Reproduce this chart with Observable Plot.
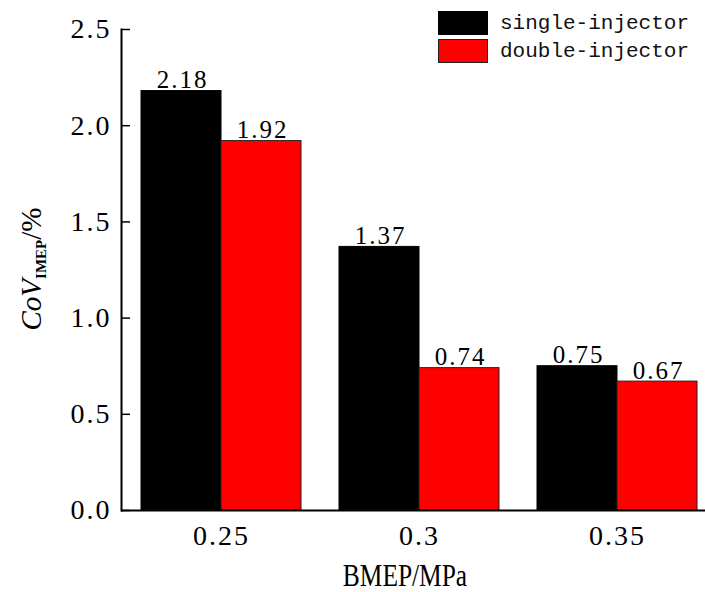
<!DOCTYPE html>
<html><head><meta charset="utf-8">
<script src="https://cdn.jsdelivr.net/npm/d3@7"></script>
<script src="https://cdn.jsdelivr.net/npm/@observablehq/plot@0.6"></script>
<style>
html,body{margin:0;padding:0;background:#fff;overflow:hidden}
#wrap{position:relative;width:705px;height:592px;font-family:'Liberation Serif',serif}
#wrap svg text{font-family:'Liberation Serif',serif;letter-spacing:2px}
#legend{position:absolute;left:438px;top:10px;font-family:'Liberation Mono',monospace;font-size:21px;color:#111}
.lrow{display:flex;align-items:center;height:26px;margin-bottom:2px}
.sw{width:50px;height:24px;box-sizing:border-box;margin-right:12px}
#ylab{position:absolute;left:32px;top:269px;transform:translate(-50%,-50%) rotate(-90deg);white-space:nowrap;font-size:29px;color:#000}
#ylab i{font-style:italic}
#ylab sub{font-size:15px;font-weight:bold;vertical-align:-5px}
#xlab{position:absolute;left:405px;top:576px;transform:translate(-50%,-50%) scaleX(0.82);white-space:nowrap;font-size:31px;color:#000}
</style></head><body><div id="wrap"></div>
<script>
const bmep = ["0.25", "0.3", "0.35"];
const singleInjector = [2.18, 1.37, 0.75];
const doubleInjector = [1.92, 0.74, 0.67];
const yTicks = [0, 0.5, 1.0, 1.5, 2.0, 2.5];
const seriesNames = ["single-injector", "double-injector"];
const seriesColors = ["#000000", "#ff0000"];
const seriesStrokes = ["#000000", "#222222"];

const singleRows = bmep.map((b, i) => ({bmep: b, series: seriesNames[0], value: singleInjector[i]}));
const doubleRows = bmep.map((b, i) => ({bmep: b, series: seriesNames[1], value: doubleInjector[i]}));
const fmt2 = d3.format(".2f");
const fmt1 = d3.format(".1f");
const serif = "'Liberation Serif', serif";

const plot = Plot.plot({
  width: 705, height: 592,
  marginLeft: 121, marginRight: 0, marginTop: 29, marginBottom: 82,
  style: {fontFamily: serif, background: "transparent", color: "#000"},
  x: {domain: bmep, range: [121, 716], paddingInner: 0.193, paddingOuter: 0.0965, axis: null},
  y: {domain: [0, 2.5], axis: null},
  color: {domain: seriesNames, range: seriesColors},
  marks: [
    Plot.barY(singleRows, {x: "bmep", y: "value", fill: "series", stroke: seriesStrokes[0], strokeWidth: 1, insetRight: 80}),
    Plot.barY(doubleRows, {x: "bmep", y: "value", fill: "series", stroke: seriesStrokes[1], strokeWidth: 1, insetLeft: 80}),
    Plot.text(singleRows, {x: "bmep", y: "value", text: d => fmt2(d.value), dx: -39, dy: -3, lineAnchor: "bottom", fontSize: 25, fontFamily: serif}),
    Plot.text(doubleRows, {x: "bmep", y: "value", text: d => fmt2(d.value), dx: 41, dy: -3, lineAnchor: "bottom", fontSize: 25, fontFamily: serif}),
    Plot.axisX({tickSize: 0, tickPadding: 15, fontSize: 28, fontFamily: serif, label: null}),
    Plot.axisY(yTicks, {tickSize: 0, tickPadding: 10, fontSize: 28, fontFamily: serif, tickFormat: fmt1, label: null}),
    Plot.axisY(yTicks, {tickSize: 9, dx: 9, strokeWidth: 1.5, tickFormat: () => "", label: null}),
    Plot.frame({anchor: "left", strokeWidth: 2}),
    Plot.ruleY([0], {strokeWidth: 2})
  ]
});

const wrap = document.getElementById("wrap");
wrap.appendChild(plot);

const legend = document.createElement("div");
legend.id = "legend";
seriesNames.forEach((name, i) => {
  const row = document.createElement("div");
  row.className = "lrow";
  const sw = document.createElement("div");
  sw.className = "sw";
  sw.style.background = seriesColors[i];
  sw.style.border = "1px solid " + seriesStrokes[i];
  const t = document.createElement("span");
  t.textContent = name;
  row.appendChild(sw); row.appendChild(t);
  legend.appendChild(row);
});
wrap.appendChild(legend);

const ylab = document.createElement("div");
ylab.id = "ylab";
ylab.innerHTML = "<i>CoV</i><sub>IMEP</sub>/%";
wrap.appendChild(ylab);

const xlab = document.createElement("div");
xlab.id = "xlab";
xlab.textContent = "BMEP/MPa";
wrap.appendChild(xlab);
</script>
</body></html>
